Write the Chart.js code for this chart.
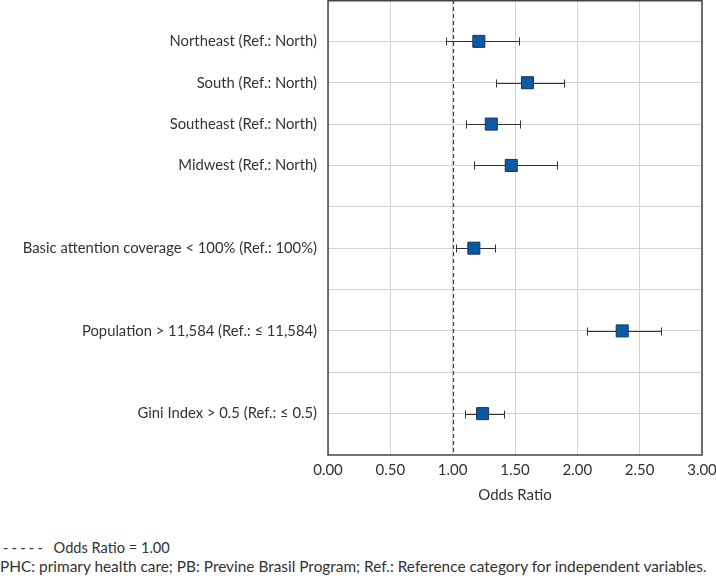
<!DOCTYPE html>
<html>
<head>
<meta charset="utf-8">
<script src="https://cdn.jsdelivr.net/npm/chart.js@4/dist/chart.umd.min.js"></script>
<style>
  body { margin: 0; background: #fff; font-family: Lato, sans-serif; color: #333; }
  #wrap { position: relative; width: 716px; height: 576px; }
  #chartBox { position: absolute; left: 0; top: 0; width: 716px; height: 512px; }
  .note { position: absolute; left: 0; white-space: nowrap; }
  .dashes { letter-spacing: 3.2px; }
</style>
</head>
<body>
<div id="wrap">
  <div id="chartBox"><canvas id="forest"></canvas></div>
  <div class="note" style="top:539px; left:3px; font-size:14.6px;"><span class="dashes">-----</span>&nbsp;&nbsp;Odds Ratio = 1.00</div>
  <div class="note" style="top:557px; font-size:15.4px;">PHC: primary health care; PB: Previne Brasil Program; Ref.: Reference category for independent variables.</div>
</div>
<script>
// rows from top to bottom, empty strings are spacer rows
const rowLabels = [
  "Northeast (Ref.: North)",
  "South (Ref.: North)",
  "Southeast (Ref.: North)",
  "Midwest (Ref.: North)",
  "",
  "Basic attention coverage < 100% (Ref.: 100%)",
  "",
  "Population > 11,584 (Ref.: \u2264 11,584)",
  "",
  "Gini Index > 0.5 (Ref.: \u2264 0.5)"
];
const oddsRatio = [1.21, 1.60, 1.31, 1.47, null, 1.17, null, 2.36, null, 1.24];
const ciLow     = [0.95, 1.35, 1.11, 1.17, null, 1.03, null, 2.08, null, 1.10];
const ciHigh    = [1.53, 1.89, 1.54, 1.84, null, 1.34, null, 2.67, null, 1.41];
const xTicks = [0, 0.5, 1, 1.5, 2, 2.5, 3];
const REFLINE = 1.0;

const points = [];
oddsRatio.forEach((v, i) => {
  if (v !== null) points.push({ x: v, y: i + 1, lo: ciLow[i], hi: ciHigh[i] });
});

const forestExtras = {
  id: "forestExtras",
  beforeDatasetsDraw(chart) {
    const ctx = chart.ctx;
    const xs = chart.scales.x, ys = chart.scales.y;
    const area = chart.chartArea;
    ctx.save();
    // reference line
    ctx.strokeStyle = "#444";
    ctx.lineWidth = 1.2;
    ctx.setLineDash([4, 3]);
    const rx = Math.round(xs.getPixelForValue(REFLINE)) + 0.5;
    ctx.beginPath();
    ctx.moveTo(rx, area.top);
    ctx.lineTo(rx, area.bottom);
    ctx.stroke();
    ctx.setLineDash([]);
    // confidence intervals
    ctx.strokeStyle = "#333";
    ctx.lineWidth = 1;
    points.forEach(p => {
      const y = Math.round(ys.getPixelForValue(p.y)) + 0.5;
      const x1 = Math.round(xs.getPixelForValue(p.lo)) + 0.5;
      const x2 = Math.round(xs.getPixelForValue(p.hi)) + 0.5;
      ctx.beginPath();
      ctx.moveTo(x1, y); ctx.lineTo(x2, y);
      ctx.moveTo(x1, y - 4); ctx.lineTo(x1, y + 4);
      ctx.moveTo(x2, y - 4); ctx.lineTo(x2, y + 4);
      ctx.stroke();
    });
    ctx.restore();
  },
  afterDraw(chart) {
    const ctx = chart.ctx;
    const a = chart.chartArea;
    ctx.save();
    ctx.strokeStyle = "#444";
    ctx.lineWidth = 1.5;
    ctx.strokeRect(a.left, a.top + 0.75, a.right - a.left, a.bottom - a.top - 0.75);
    ctx.restore();
  }
};

new Chart(document.getElementById("forest"), {
  type: "scatter",
  data: {
    datasets: [{
      data: points,
      pointStyle: "rect",
      pointRadius: 8.5,
      pointHoverRadius: 8.5,
      backgroundColor: "#0b5aa8",
      borderColor: "#1c3350",
      borderWidth: 1
    }]
  },
  options: {
    responsive: true,
    maintainAspectRatio: false,
    animation: false,
    layout: { autoPadding: false, padding: { top: 0, right: 14, bottom: 0, left: 0 } },
    plugins: { legend: { display: false }, tooltip: { enabled: false } },
    scales: {
      x: {
        type: "linear",
        min: 0,
        max: 3,
        afterBuildTicks: axis => { axis.ticks = xTicks.map(v => ({ value: v })); },
        afterFit: axis => {
          axis.height = 57;
          axis.paddingLeft = 0;
          axis.paddingRight = 0;
        },
        grid: { color: "#d2d2d2", drawTicks: false },
        border: { display: false },
        ticks: {
          padding: 6,
          color: "#333",
          font: { family: "Lato", size: 15 },
          callback: v => v.toFixed(2)
        },
        title: {
          display: true,
          text: "Odds Ratio",
          color: "#333",
          font: { family: "Lato", size: 15 },
          padding: { top: 0, bottom: 8 }
        }
      },
      y: {
        type: "linear",
        min: 0,
        max: rowLabels.length + 1,
        reverse: true,
        afterBuildTicks: axis => { axis.ticks = rowLabels.map((l, i) => ({ value: i + 1 })); },
        afterFit: axis => {
          axis.width = 328;
          axis.paddingTop = 0;
          axis.paddingBottom = 0;
        },
        grid: { color: "#d2d2d2", drawTicks: false },
        border: { display: false },
        ticks: {
          padding: 11,
          color: "#333",
          font: { family: "Lato", size: 14.8 },
          callback: v => rowLabels[v - 1]
        }
      }
    }
  },
  plugins: [forestExtras]
});
</script>
</body>
</html>
